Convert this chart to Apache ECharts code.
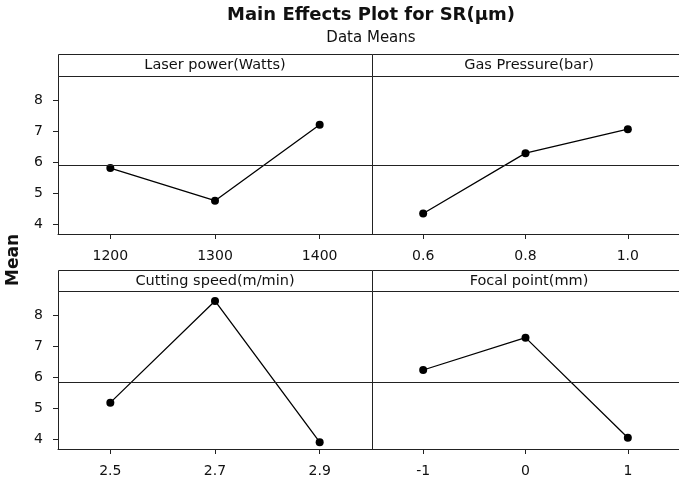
<!DOCTYPE html>
<html>
<head>
<meta charset="utf-8">
<script src="https://cdn.jsdelivr.net/npm/echarts@6/dist/echarts.min.js"></script>
<style>
  html, body { margin: 0; padding: 0; background: #fff; }
  #chart { width: 679px; height: 482px; }
</style>
</head>
<body>
<div id="chart"></div>
<script>
// factor levels and their data means
const panelNames = ['Laser power(Watts)', 'Gas Pressure(bar)', 'Cutting speed(m/min)', 'Focal point(mm)'];
const laserPower = ['1200', '1300', '1400'];
const laserMeans = [5.82, 4.77, 7.21];
const gasPressure = ['0.6', '0.8', '1.0'];
const gasMeans = [4.36, 6.30, 7.07];
const cuttingSpeed = ['2.5', '2.7', '2.9'];
const cuttingMeans = [5.19, 8.46, 3.92];
const focalPoint = ['-1', '0', '1'];
const focalMeans = [6.24, 7.28, 4.06];
const meanLine = [5.92, 5.92, 5.86, 5.86];
const yTicks = [4, 5, 6, 7, 8];

const levels = [laserPower, gasPressure, cuttingSpeed, focalPoint];
const means = [laserMeans, gasMeans, cuttingMeans, focalMeans];

const FONT = 'DejaVu Sans';
const INK = '#111';
const LINE = '#222';

// panel boxes (plot area, header sits on top)
const boxes = [
  { left: 58, top: 76, width: 314, height: 158 },
  { left: 372, top: 76, width: 313, height: 158 },
  { left: 58, top: 291, width: 314, height: 158 },
  { left: 372, top: 291, width: 313, height: 158 }
];
const headerH = [22, 22, 21, 21];

const chart = echarts.init(document.getElementById('chart'));

const grids = boxes.map(b => ({ left: b.left, top: b.top, width: b.width, height: b.height, containLabel: false }));

const xAxes = levels.map((lv, i) => ({
  type: 'category',
  gridIndex: i,
  data: lv,
  boundaryGap: true,
  axisLine: { show: true, lineStyle: { color: LINE, width: 1 } },
  axisTick: { show: true, alignWithLabel: true, length: 5, lineStyle: { color: LINE } },
  axisLabel: { margin: 15, color: INK, fontFamily: FONT, fontSize: 14 },
  splitLine: { show: false }
}));

const yAxes = boxes.map((b, i) => {
  const left = i % 2 === 0;
  return {
    type: 'value',
    gridIndex: i,
    min: 3.7,
    max: 8.78,
    axisLine: { show: true, lineStyle: { color: LINE, width: 1 } },
    axisTick: { show: left, length: 5, customValues: yTicks, lineStyle: { color: LINE } },
    axisLabel: { show: left, margin: 15, customValues: yTicks, color: INK, fontFamily: FONT, fontSize: 14 },
    splitLine: { show: false }
  };
});

const series = means.map((m, i) => ({
  type: 'line',
  xAxisIndex: i,
  yAxisIndex: i,
  data: m,
  symbol: 'circle',
  symbolSize: 8,
  showSymbol: true,
  itemStyle: { color: '#000' },
  lineStyle: { color: '#000', width: 1.3 },
  markLine: {
    silent: true,
    symbol: 'none',
    label: { show: false },
    lineStyle: { color: LINE, width: 1, type: 'solid' },
    data: [{ yAxis: meanLine[i] }]
  },
  animation: false
}));

// header strips with the factor names
const graphics = [];
boxes.forEach((b, i) => {
  const h = headerH[i];
  graphics.push({
    type: 'rect',
    shape: { x: b.left + 0.5, y: b.top - h + 0.5, width: b.width, height: h },
    style: { fill: '#fff', stroke: LINE, lineWidth: 1 },
    z: 10
  });
  graphics.push({
    type: 'text',
    x: b.left + 314 / 2,
    y: b.top - h / 2 + 0.5,
    style: { text: panelNames[i], fill: INK, font: '14.5px "' + FONT + '"', textAlign: 'center', textVerticalAlign: 'middle' },
    z: 11
  });
});
graphics.push({
  type: 'text',
  x: 14,
  y: 260,
  rotation: Math.PI / 2,
  style: { text: 'Mean', fill: INK, font: 'bold 17px "' + FONT + '"', textAlign: 'center', textVerticalAlign: 'middle' },
  z: 11
});

const option = {
  backgroundColor: '#fff',
  animation: false,
  title: {
    text: 'Main Effects Plot for SR(µm)',
    subtext: 'Data Means',
    left: 371,
    top: 5,
    padding: 0,
    itemGap: 5,
    textAlign: 'center',
    textStyle: { fontFamily: FONT, fontSize: 18, fontWeight: 'bold', color: INK, lineHeight: 20 },
    subtextStyle: { fontFamily: FONT, fontSize: 15, color: INK, lineHeight: 17 }
  },
  grid: grids,
  xAxis: xAxes,
  yAxis: yAxes,
  series: series,
  graphic: graphics
};

chart.setOption(option);
window.addEventListener('resize', () => chart.resize());
</script>
</body>
</html>
